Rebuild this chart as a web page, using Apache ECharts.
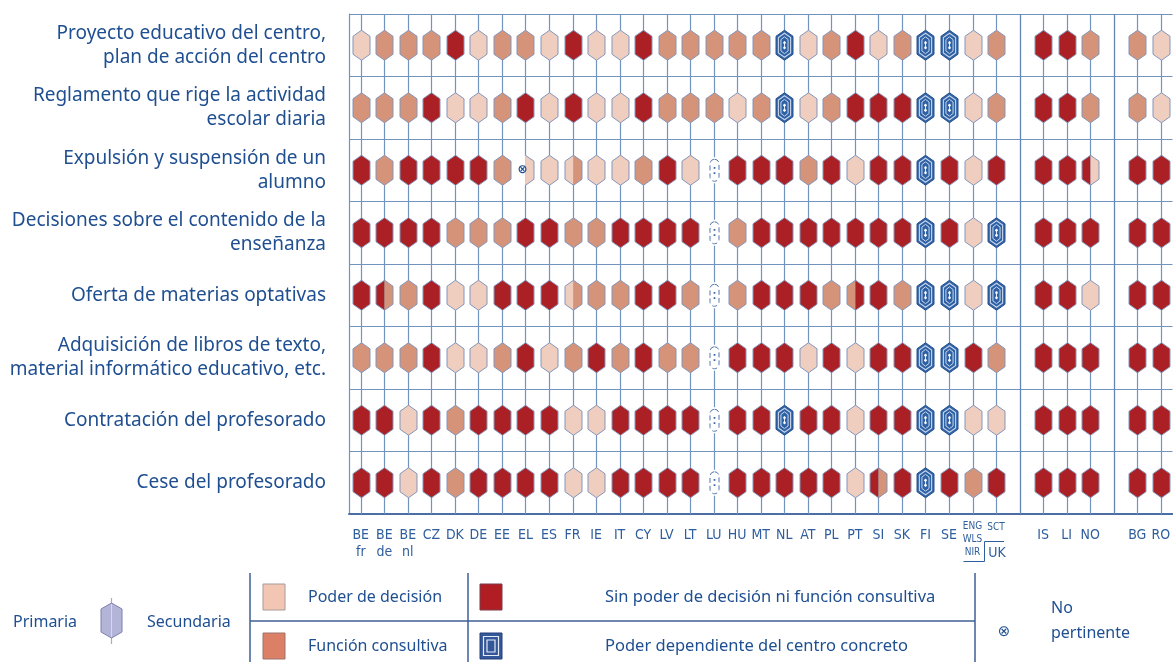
<!DOCTYPE html>
<html>
<head>
<meta charset="utf-8">
<script src="https://cdn.jsdelivr.net/npm/echarts@6/dist/echarts.min.js"></script>
<style>
  html, body { margin: 0; padding: 0; background: #fff; }
  #chart { width: 1173px; height: 662px; }
</style>
</head>
<body>
<div id="chart"></div>
<script>
const rowLabels = [
  'Proyecto educativo del centro,\nplan de acción del centro',
  'Reglamento que rige la actividad\nescolar diaria',
  'Expulsión y suspensión de un\nalumno',
  'Decisiones sobre el contenido de la\nenseñanza',
  'Oferta de materias optativas',
  'Adquisición de libros de texto,\nmaterial informático educativo, etc.',
  'Contratación del profesorado',
  'Cese del profesorado'
];
// slots 28 and 32 are the gaps between groups of countries
const countries = ['BE\nfr', 'BE\nde', 'BE\nnl', 'CZ', 'DK', 'DE', 'EE', 'EL', 'ES', 'FR',
  'IE', 'IT', 'CY', 'LV', 'LT', 'LU', 'HU', 'MT', 'NL', 'AT',
  'PL', 'PT', 'SI', 'SK', 'FI', 'SE', 'UK-1', 'UK-SCT', ' ', 'IS', 'LI', 'NO', '  ', 'BG', 'RO'];

// P poder de decisión, C función consultiva, S sin poder ni función consultiva,
// D poder dependiente del centro, X no pertinente, N no disponible; 'A|B' = primaria|secundaria
const proyecto = ['P', 'C', 'C', 'C', 'S', 'P', 'C', 'C', 'P', 'S', 'P', 'P', 'S', 'C', 'C', 'C', 'C', 'C', 'D', 'P',
  'C', 'S', 'P', 'C', 'D', 'D', 'P', 'C', null, 'S', 'S', 'C', null, 'C', 'P'];
const reglamento = ['C', 'C', 'C', 'S', 'P', 'P', 'C', 'S', 'P', 'S', 'P', 'P', 'S', 'C', 'C', 'C', 'P', 'C', 'D', 'P',
  'C', 'S', 'S', 'S', 'D', 'D', 'P', 'C', null, 'S', 'S', 'C', null, 'C', 'P'];
const expulsion = ['S', 'C', 'S', 'S', 'S', 'S', 'C', 'X|P', 'P', 'P|C', 'P', 'P', 'C', 'S', 'P', 'N', 'S', 'S', 'S', 'C',
  'S', 'P', 'S', 'S', 'D', 'S', 'P', 'S', null, 'S', 'S', 'S|P', null, 'S', 'S'];
const contenido = ['S', 'S', 'S', 'S', 'C', 'C', 'C', 'S', 'S', 'C', 'C', 'S', 'S', 'S', 'S', 'N', 'C', 'S', 'S', 'S',
  'S', 'S', 'S', 'S', 'D', 'S', 'P', 'D', null, 'S', 'S', 'S', null, 'S', 'S'];
const optativas = ['S', 'S|C', 'C', 'S', 'P', 'P', 'S', 'S', 'S', 'P|C', 'C', 'C', 'S', 'S', 'C', 'N', 'C', 'S', 'S', 'S',
  'C', 'C|S', 'S', 'C', 'D', 'D', 'P', 'D', null, 'S', 'S', 'P', null, 'S', 'S'];
const libros = ['C', 'C', 'C', 'S', 'P', 'P', 'C', 'S', 'P', 'C', 'S', 'C', 'S', 'C', 'C', 'N', 'S', 'S', 'S', 'P',
  'S', 'P', 'S', 'S', 'D', 'D', 'S', 'C', null, 'S', 'S', 'S', null, 'S', 'S'];
const contratacion = ['S', 'S', 'P', 'S', 'C', 'S', 'S', 'S', 'S', 'P', 'P', 'S', 'S', 'S', 'S', 'N', 'S', 'S', 'D', 'S',
  'S', 'P', 'S', 'S', 'D', 'D', 'P', 'P', null, 'S', 'S', 'S', null, 'S', 'S'];
const cese = ['S', 'S', 'P', 'S', 'C', 'S', 'S', 'S', 'S', 'P', 'P', 'S', 'S', 'S', 'S', 'N', 'S', 'S', 'S', 'S',
  'S', 'P', 'S|C', 'S', 'D', 'S', 'C', 'S', null, 'S', 'S', 'S', null, 'S', 'S'];

const separators = [28, 32];

const rows = [proyecto, reglamento, expulsion, contenido, optativas, libros, contratacion, cese];
const fills = { P: '#efcdbf', C: '#d59379', S: '#ab2024', X: '#ffffff' };
const gridColor = '#7393bf';
const textBlue = '#1f4f90';
const labelFont = "'Liberation Sans Narrow', 'DejaVu Sans Condensed', 'Roboto Condensed', sans-serif";

const cells = [];
rows.forEach((row, r) => {
  row.forEach((code, x) => {
    if (code) cells.push([x, r]);
  });
});
const sepCells = [];
rows.forEach((row, r) => separators.forEach(x => sepCells.push([x, r])));

function hexPoints(cx, cy, w, h, k) {
  return [
    [cx, cy - h / 2], [cx + w / 2, cy - h / 2 + k], [cx + w / 2, cy + h / 2 - k],
    [cx, cy + h / 2], [cx - w / 2, cy + h / 2 - k], [cx - w / 2, cy - h / 2 + k]
  ];
}

function vline(x, y1, y2, color, width) {
  return {
    type: 'line',
    shape: { x1: x, y1: y1, x2: x, y2: y2 },
    style: { stroke: color || gridColor, lineWidth: width || 1.2 }
  };
}

function renderCell(params, api) {
  const xi = api.value(0);
  const yi = api.value(1);
  const code = rows[yi][xi];
  const c = api.coord([xi, yi]);
  const size = api.size([1, 1]);
  const cx = Math.round(c[0]) + 0.5;
  const cy = c[1];
  const top = cy - size[1] / 2;
  const bottom = cy + size[1] / 2;
  const w = 17, h = 30, k = 6;
  const children = [];

  if (code === 'N') {
    // no disponible: broken column line with a dashed "(:)" mark
    children.push(vline(cx, top, cy - 13), vline(cx, cy + 13, bottom));
    children.push({
      type: 'rect',
      shape: { x: cx - 4.5, y: cy - 11, width: 9, height: 22, r: 4.5 },
      style: { fill: '#fff', stroke: '#5277ad', lineWidth: 1, lineDash: [5, 3] }
    });
    children.push({
      type: 'text',
      style: { text: ':', x: cx, y: cy, align: 'center', verticalAlign: 'middle', fill: '#3b64a0', font: 'bold 12px sans-serif' }
    });
    return { type: 'group', children: children };
  }

  children.push(vline(cx, top, bottom));
  const p = hexPoints(cx, cy, w, h, k);

  if (code === 'D') {
    children.push({ type: 'polygon', shape: { points: p }, style: { fill: '#2f62a5', stroke: '#28528f', lineWidth: 1 } });
    children.push({ type: 'polygon', shape: { points: hexPoints(cx, cy, w * 0.72, h * 0.8, k * 0.7) }, style: { fill: 'none', stroke: '#c9d7ec', lineWidth: 1.1 } });
    children.push({ type: 'polygon', shape: { points: hexPoints(cx, cy, w * 0.42, h * 0.56, k * 0.45) }, style: { fill: 'none', stroke: '#c9d7ec', lineWidth: 1 } });
    children.push(vline(cx, cy - 4, cy + 4, '#dfe7f4', 1));
    children.push({ type: 'circle', shape: { cx: cx, cy: cy - 2.5, r: 1.3 }, style: { fill: '#ffffff' } });
    children.push({ type: 'circle', shape: { cx: cx, cy: cy + 2.5, r: 1.3 }, style: { fill: '#ffffff' } });
    return { type: 'group', children: children };
  }

  const parts = code.split('|');
  const a = parts[0];
  const b = parts[1] || parts[0];
  const outline = { fill: 'none', stroke: '#8397bb', lineWidth: 1 };
  if (a === b) {
    children.push({ type: 'polygon', shape: { points: p }, style: Object.assign({}, outline, { fill: fills[a] }) });
  } else {
    children.push({ type: 'polygon', shape: { points: [p[0], p[3], p[4], p[5]] }, style: { fill: fills[a] } });
    children.push({ type: 'polygon', shape: { points: [p[0], p[1], p[2], p[3]] }, style: { fill: fills[b] } });
    if (a === 'X') {
      children.push({ type: 'polyline', shape: { points: [p[0], p[1], p[2], p[3]] }, style: outline });
      children.push({
        type: 'text',
        style: { text: '⊗', x: cx - 3, y: cy, align: 'center', verticalAlign: 'middle', fill: '#1f4f90', font: 'bold 12px "DejaVu Sans"' }
      });
    } else {
      children.push({ type: 'polygon', shape: { points: p }, style: outline });
    }
  }
  return { type: 'group', children: children };
}

function renderSeparator(params, api) {
  const xi = api.value(0);
  const yi = api.value(1);
  const c = api.coord([xi, yi]);
  const size = api.size([1, 1]);
  const cx = Math.round(c[0]) + 0.5;
  return vline(cx, c[1] - size[1] / 2, c[1] + size[1] / 2, '#6386b8', 1.3);
}

// legend helpers
function legendText(text, x, y, size) {
  return {
    type: 'text', x: x, y: y,
    style: { text: text, fill: textBlue, font: (size || 16) + 'px "Noto Sans"', verticalAlign: 'middle' }
  };
}
function legendLine(x1, y1, x2, y2) {
  return { type: 'line', shape: { x1: x1, y1: y1, x2: x2, y2: y2 }, style: { stroke: '#3d5f95', lineWidth: 1.5 } };
}
function swatch(x, y, color, stroke) {
  return { type: 'rect', shape: { x: x, y: y, width: 22, height: 26 }, style: { fill: color, stroke: stroke, lineWidth: 1 } };
}

const legendHex = hexPoints(111.5, 620.5, 21, 35, 6);
const graphics = [
  legendText('Primaria', 13, 622),
  { type: 'line', shape: { x1: 111.5, y1: 598, x2: 111.5, y2: 644 }, style: { stroke: '#a9abcb', lineWidth: 1.2 } },
  { type: 'polygon', shape: { points: legendHex }, style: { fill: '#b3b4d7', stroke: '#7d80b1', lineWidth: 1 } },
  { type: 'line', shape: { x1: 111.5, y1: 604, x2: 111.5, y2: 637 }, style: { stroke: '#d6d7ea', lineWidth: 1 } },
  legendText('Secundaria', 147, 622),
  legendLine(250, 573, 250, 662),
  legendLine(468, 573, 468, 662),
  legendLine(975, 573, 975, 662),
  legendLine(250, 621, 975, 621),
  swatch(263, 584, '#f2c6b2', '#a89a9a'),
  legendText('Poder de decisión', 308, 597),
  swatch(263, 633, '#db8066', '#a0706a'),
  legendText('Función consultiva', 308, 646),
  swatch(480, 584, '#b01e24', '#7a3a4a'),
  legendText('Sin poder de decisión ni función consultiva', 605, 597, 16.5),
  { type: 'rect', shape: { x: 480, y: 633, width: 22, height: 26 }, style: { fill: '#34579a', stroke: '#24407a', lineWidth: 1 } },
  { type: 'rect', shape: { x: 483.5, y: 636.5, width: 15, height: 19 }, style: { fill: 'none', stroke: '#e6ebf5', lineWidth: 1.2 } },
  { type: 'rect', shape: { x: 487, y: 640, width: 8, height: 12 }, style: { fill: 'none', stroke: '#e6ebf5', lineWidth: 1.2 } },
  legendText('Poder dependiente del centro concreto', 605, 646, 16.5),
  { type: 'text', x: 1004, y: 632, style: { text: '⊗', fill: textBlue, font: '15px "DejaVu Sans"', align: 'center', verticalAlign: 'middle' } },
  legendText('No', 1051, 608),
  legendText('pertinente', 1051, 633)
];

const chart = echarts.init(document.getElementById('chart'), null, { renderer: 'canvas' });
chart.setOption({
  animation: false,
  backgroundColor: '#ffffff',
  grid: { left: 349, top: 14, width: 828, height: 500 },
  xAxis: {
    type: 'category',
    data: countries,
    axisLine: { show: true, lineStyle: { color: '#4a6ea5', width: 2 } },
    axisTick: { show: false },
    splitLine: { show: false },
    axisLabel: {
      interval: 0,
      margin: 13,
      color: '#2e5e9d',
      fontSize: 14,
      lineHeight: 17,
      fontFamily: labelFont,
      formatter: function (v) {
        return v.indexOf('UK') === 0 ? '' : v;
      }
    }
  },
  yAxis: {
    type: 'category',
    data: rowLabels,
    inverse: true,
    axisLine: { show: true, lineStyle: { color: gridColor, width: 1.2 } },
    axisTick: { show: false },
    splitLine: { show: true, lineStyle: { color: gridColor, width: 1.2 } },
    axisLabel: {
      margin: 23,
      color: textBlue,
      fontSize: 19,
      lineHeight: 24,
      fontFamily: 'Noto Sans'
    }
  },
  series: [
    {
      type: 'custom',
      name: 'separadores',
      data: sepCells,
      encode: { x: 0, y: 1 },
      renderItem: renderSeparator,
      silent: true
    },
    {
      type: 'custom',
      name: 'celdas',
      data: cells,
      encode: { x: 0, y: 1 },
      renderItem: renderCell
    }
  ],
  graphic: graphics
});

// UK sub-labels and bracket, placed from the axis scale
const ukX = chart.convertToPixel({ xAxisIndex: 0 }, 26);
const sctX = chart.convertToPixel({ xAxisIndex: 0 }, 27);
const smallFont = '10px ' + labelFont;
function ukText(text, x, y, font) {
  return { type: 'text', x: x, y: y, style: { text: text, fill: '#2e5e9d', font: font || smallFont, align: 'center', verticalAlign: 'middle' } };
}
chart.setOption({
  graphic: graphics.concat([
    ukText('ENG', ukX, 526),
    ukText('WLS', ukX, 539),
    ukText('NIR', ukX, 552),
    ukText('SCT', sctX, 527),
    {
      type: 'polyline',
      shape: { points: [[ukX - 9, 561.5], [ukX + 12, 561.5], [ukX + 12, 541.5], [sctX + 8, 541.5]] },
      style: { stroke: '#2e5e9d', lineWidth: 1, fill: 'none' }
    },
    ukText('UK', sctX + 1, 553, '14px ' + labelFont)
  ])
});
</script>
</body>
</html>
